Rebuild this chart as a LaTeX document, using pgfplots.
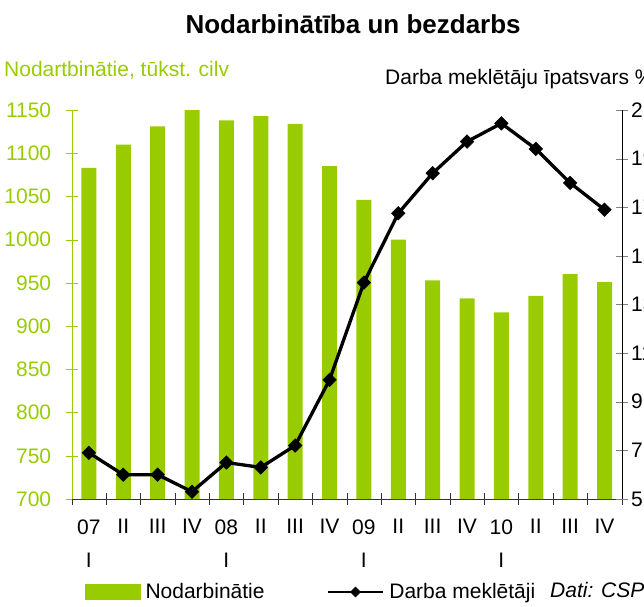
\documentclass[border=0pt]{standalone}
\usepackage{fontspec}
\setmainfont{Liberation Sans}
\usepackage{pgfplots}
\pgfplotsset{compat=1.18}
\definecolor{grn}{HTML}{99CC00}
\newcommand\fs{\fontsize{21pt}{25pt}\selectfont}
\begin{document}
\begin{tikzpicture}
\pgfplotsset{
  common/.style={
    at={(71.7pt,107pt)}, anchor=south west,
    scale only axis, width=550pt, height=389pt,
    xmin=-0.5, xmax=15.5, clip=false,
    tick align=center, major tick length=12pt,
    /pgf/number format/assume math mode=true,
    /pgf/number format/1000 sep={},
    ticklabel style={font=\fs},
  }
}
\begin{axis}[common,
  ymin=700, ymax=1150,
  axis y line*=left, axis x line*=bottom,
  y axis line style={draw=grn},
  x axis line style={draw=black!80},
  ytick={700,750,...,1150},
  ytick style={draw=grn},
  yticklabel style={text=grn, xshift=-11pt},
  xtick={-0.5,0.5,...,15.5},
  xticklabels={{}},
  xtick style={draw=black!80},
  extra x ticks={0,...,15},
  extra x tick labels={{07\\[8pt]I},II,III,IV,{08\\[8pt]I},II,III,IV,{09\\[8pt]I},II,III,IV,{10\\[8pt]I},II,III,IV},
  extra x tick style={major tick length=0pt, xticklabel style={align=center, anchor=north, yshift=-17pt}},
]
\addplot[ybar, bar width=15pt, fill=grn, draw=none] coordinates {
(0,1083) (1,1110) (2,1131) (3,1150) (4,1138) (5,1143) (6,1134) (7,1085)
(8,1046) (9,1000) (10,953) (11,932) (12,916) (13,935) (14,960) (15,951)};
\end{axis}
\begin{axis}[common,
  ymin=5, ymax=21,
  axis y line*=right, axis x line=none,
  ytick={5,7,...,21},
  yticklabel style={text=black},
  legend columns=2,
  legend style={at={(0.024,-0.239)}, anchor=west, draw=none, fill=none, inner sep=0pt, font=\fs,
    /tikz/every odd column/.append style={column sep=3pt},
    /tikz/every even column/.append style={column sep=60pt}},
]
\addlegendimage{legend image code/.code={\fill[grn] (0pt,-7.5pt) rectangle (55pt,7.5pt);}}
\addlegendentry{Nodarbinātie}
\addplot[black, line width=3.3pt, mark=square*, mark size=4.8pt, mark options={rotate=45, line width=0.5pt},
  legend image code/.code={\draw[black, line width=2.8pt, mark=square*, mark size=3.5pt, mark options={rotate=45, line width=0.5pt}, mark repeat=2, mark phase=2] plot coordinates {(0pt,0pt) (27.5pt,0pt) (55pt,0pt)};}]
coordinates {
(0,6.9) (1,6.0) (2,6.0) (3,5.3) (4,6.5) (5,6.3) (6,7.2) (7,9.9)
(8,13.9) (9,16.75) (10,18.4) (11,19.7) (12,20.45) (13,19.4) (14,18.0) (15,16.9)};
\addlegendentry{Darba meklētāji}
\end{axis}
\node[anchor=base west, font=\fontsize{26pt}{30pt}\selectfont\bfseries] at (182pt,572pt) {Nodarbinātība un bezdarbs};
\node[anchor=base west, inner sep=0pt, font=\fs, text=grn] at (4pt,529pt) {Nodartbinātie, tūkst. cilv};
\node[anchor=base west, inner sep=0pt, font=\fs] at (385pt,521pt) {Darba meklētāju īpatsvars \%};
\node[anchor=base west, inner sep=0pt, font=\fs\itshape] at (550pt,9pt) {Dati: CSP};
\pgfresetboundingbox
\path[use as bounding box] (0pt,0pt) rectangle (644pt,606pt);
\end{tikzpicture}
\end{document}
